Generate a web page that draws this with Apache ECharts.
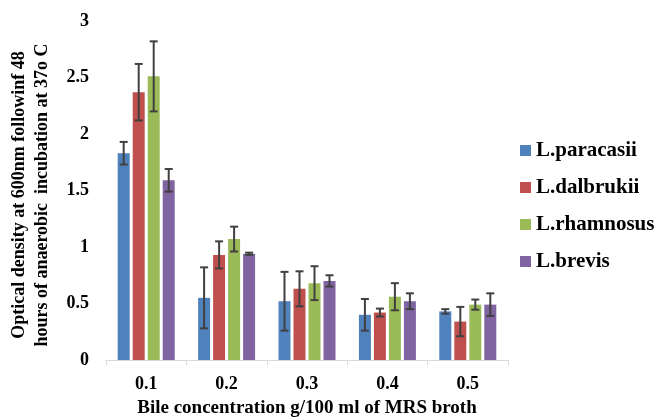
<!DOCTYPE html>
<html lang="en">
<head>
    <meta charset="UTF-8">
    <script src="https://cdnjs.cloudflare.com/ajax/libs/echarts/6.0.0/echarts.min.js"></script>
    <title>Bile tolerance</title>
</head>
<body style="margin:0">

<div id="chart" style="width: 659px;height: 420px"></div>

<script type="text/javascript">
    // data
    var categories = ['0.1', '0.2', '0.3', '0.4', '0.5'];
    var seriesNames = ['L.paracasii', 'L.dalbrukii', 'L.rhamnosus', 'L.brevis'];

    var paracasii = [1.83, 0.55, 0.52, 0.40, 0.43];
    var dalbrukii = [2.37, 0.93, 0.63, 0.42, 0.34];
    var rhamnosus = [2.51, 1.07, 0.68, 0.56, 0.49];
    var brevis    = [1.59, 0.94, 0.70, 0.52, 0.49];

    // +/- error
    var paracasiiErr = [0.10, 0.27, 0.26, 0.14, 0.02];
    var dalbrukiiErr = [0.25, 0.12, 0.155, 0.035, 0.13];
    var rhamnosusErr = [0.31, 0.11, 0.15, 0.12, 0.045];
    var brevisErr    = [0.10, 0.01, 0.05, 0.07, 0.10];

    var colors = ['#4F81BD', '#C0504D', '#9BBB59', '#8064A2'];
    var values = [paracasii, dalbrukii, rhamnosus, brevis];
    var errors = [paracasiiErr, dalbrukiiErr, rhamnosusErr, brevisErr];

    var font = 'Liberation Serif';
    var barW = 12;
    var gapW = 3;

    var myChart = echarts.init(document.getElementById('chart'));

    function errorSeries(idx) {
        var data = [];
        for (var i = 0; i < categories.length; i++) {
            data.push([i, values[idx][i], errors[idx][i]]);
        }
        return {
            type: 'custom',
            name: seriesNames[idx] + ' err',
            z: 10,
            silent: true,
            data: data,
            encode: {x: 0, y: 1},
            renderItem: function (params, api) {
                var cat = api.value(0);
                var v = api.value(1);
                var e = api.value(2);
                var groupW = 4 * barW + 3 * gapW;
                var off = -groupW / 2 + barW / 2 + idx * (barW + gapW);
                var top = api.coord([cat, v + e]);
                var bot = api.coord([cat, v - e]);
                var x = top[0] + off;
                var cap = 4;
                var st = {stroke: '#404040', lineWidth: 2};
                return {
                    type: 'group',
                    children: [
                        {type: 'line', shape: {x1: x, y1: top[1], x2: x, y2: bot[1]}, style: st},
                        {type: 'line', shape: {x1: x - cap, y1: top[1], x2: x + cap, y2: top[1]}, style: st},
                        {type: 'line', shape: {x1: x - cap, y1: bot[1], x2: x + cap, y2: bot[1]}, style: st}
                    ]
                };
            }
        };
    }

    var series = [];
    for (var s = 0; s < 4; s++) {
        series.push({
            name: seriesNames[s],
            type: 'bar',
            barWidth: barW,
            barGap: '25%',
            itemStyle: {color: colors[s]},
            data: values[s]
        });
    }
    for (var s = 0; s < 4; s++) {
        series.push(errorSeries(s));
    }

    var option = {
        animation: false,
        grid: {left: 106, right: 151, top: 21, bottom: 60, outerBoundsMode: 'none'},
        legend: {
            orient: 'vertical',
            left: 515,
            top: 135,
            itemWidth: 11,
            itemHeight: 11,
            itemGap: 16,
            icon: 'rect',
            data: seriesNames,
            textStyle: {fontFamily: font, fontWeight: 'bold', fontSize: 21, lineHeight: 21, color: '#000'}
        },
        xAxis: {
            type: 'category',
            data: categories,
            name: 'Bile concentration g/100 ml of MRS broth',
            nameLocation: 'middle',
            nameGap: 39,
            nameTextStyle: {fontFamily: font, fontWeight: 'bold', fontSize: 19, color: '#000'},
            axisLine: {lineStyle: {color: '#D9D9D9', width: 1}},
            axisTick: {show: true, length: 5, lineStyle: {color: '#D9D9D9'}},
            axisLabel: {fontFamily: font, fontWeight: 'bold', fontSize: 18, color: '#000', margin: 15}
        },
        yAxis: {
            type: 'value',
            min: 0,
            max: 3,
            interval: 0.5,
            splitLine: {show: false},
            axisLine: {show: false},
            axisTick: {show: false},
            axisLabel: {fontFamily: font, fontWeight: 'bold', fontSize: 18, color: '#000', margin: 17}
        },
        graphic: [{
            type: 'text',
            x: 31,
            y: 195,
            rotation: Math.PI / 2,
            style: {
                text: 'Optical density at 600nm followinf 48\nhours of anaerobic  incubation at 37o C',
                fontFamily: font,
                fontWeight: 'bold',
                fontSize: 18,
                lineHeight: 23,
                fill: '#000',
                textAlign: 'center',
                textVerticalAlign: 'middle'
            }
        }],
        series: series
    };
    myChart.setOption(option);
</script>
</body>
</html>
